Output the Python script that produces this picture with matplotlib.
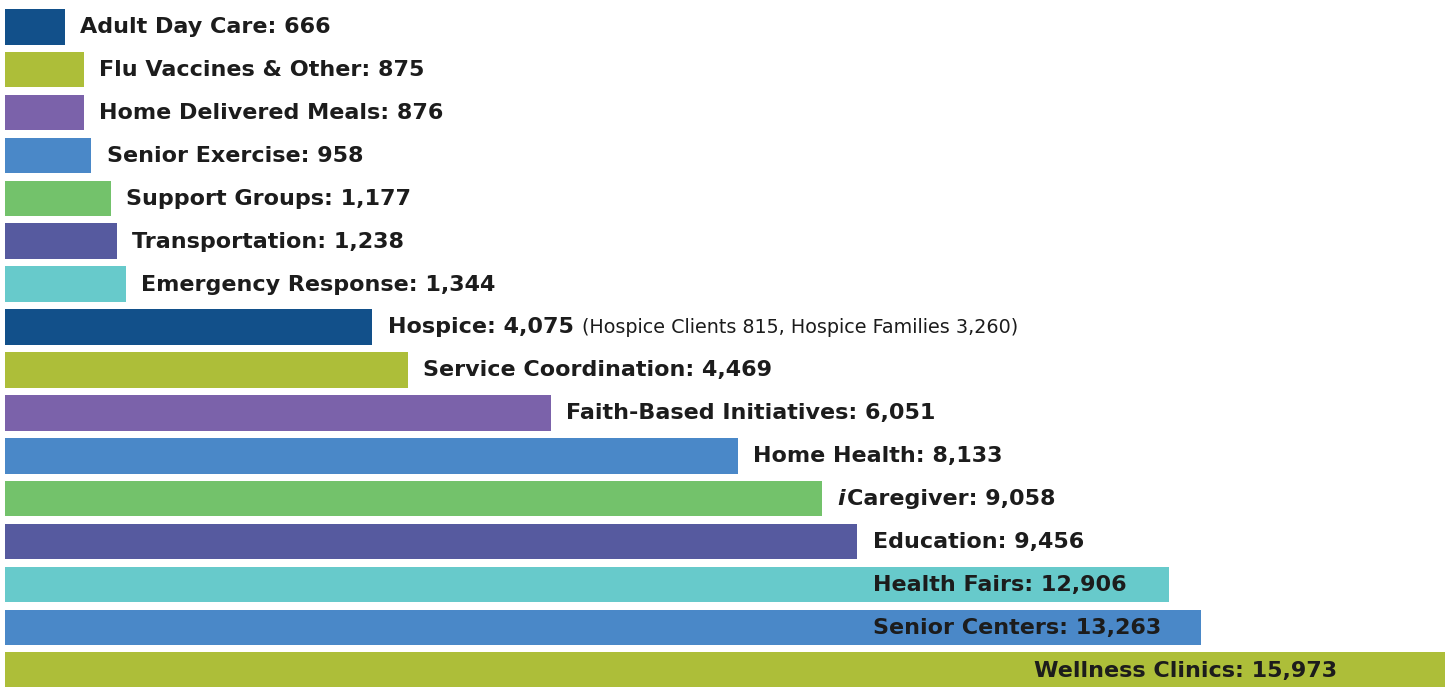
import matplotlib
matplotlib.use("Agg")
import matplotlib.pyplot as plt

# datos
labels = ["Adult Day Care", "Flu Vaccines & Other", "Home Delivered Meals",
          "Senior Exercise", "Support Groups", "Transportation",
          "Emergency Response", "Hospice", "Service Coordination",
          "Faith-Based Initiatives", "Home Health", "Caregiver",
          "Education", "Health Fairs", "Senior Centers", "Wellness Clinics"]
values = [666, 875, 876, 958, 1177, 1238, 1344, 4075, 4469, 6051,
          8133, 9058, 9456, 12906, 13263, 15973]
colors = ["#12508a", "#adbe39", "#7b62aa", "#4a88c8", "#73c26b", "#565a9f",
          "#67cacb", "#12508a", "#adbe39", "#7b62aa", "#4a88c8", "#73c26b",
          "#565a9f", "#67cacb", "#4a88c8", "#adbe39"]
hospice_note = "(Hospice Clients 815, Hospice Families 3,260)"

fig = plt.figure(figsize=(14.5, 6.87), dpi=100)
ax = fig.add_axes([0, 0, 1, 1])
vmax = max(values)
ax.set_xlim(-5 * vmax / 1440, 1445 * vmax / 1440)
ax.set_ylim(15.39, -0.6235)
ax.axis("off")

txtcolor = "#1c1c1c"
fs = 16
gap = 11     # pt
base = -4.6  # pt, baseline below bar centre

ax.barh(range(len(values)), values, height=0.83, color=colors)

for i, (name, v) in enumerate(zip(labels, values)):
    s = f"{name}: {v:,}"
    x, dx, ha = v, gap, "left"
    if name in ("Health Fairs", "Senior Centers"):
        x = values[labels.index("Education")]
    elif name == "Wellness Clinics":
        x, dx, ha = v, -78, "right"
    if name == "Caregiver":
        t_i = ax.annotate("i", xy=(x, i), xytext=(dx, base), textcoords="offset points",
                          va="baseline", ha="left", fontsize=fs, fontweight="bold",
                          style="italic", color=txtcolor)
        ax.annotate(s, xy=(1, i), xycoords=(t_i, "data"), xytext=(1.5, base),
                    textcoords="offset points", va="baseline", ha="left",
                    fontsize=fs, fontweight="bold", color=txtcolor,
                    annotation_clip=False)
        continue
    t = ax.annotate(s, xy=(x, i), xytext=(dx, base), textcoords="offset points",
                    va="baseline", ha=ha, fontsize=fs, fontweight="bold",
                    color=txtcolor)
    if name == "Hospice":
        ax.annotate(hospice_note, xy=(1, i), xycoords=(t, "data"),
                    xytext=(6, base), textcoords="offset points",
                    va="baseline", ha="left", fontsize=13.75, color=txtcolor)

fig.savefig("out.png", dpi=100)
